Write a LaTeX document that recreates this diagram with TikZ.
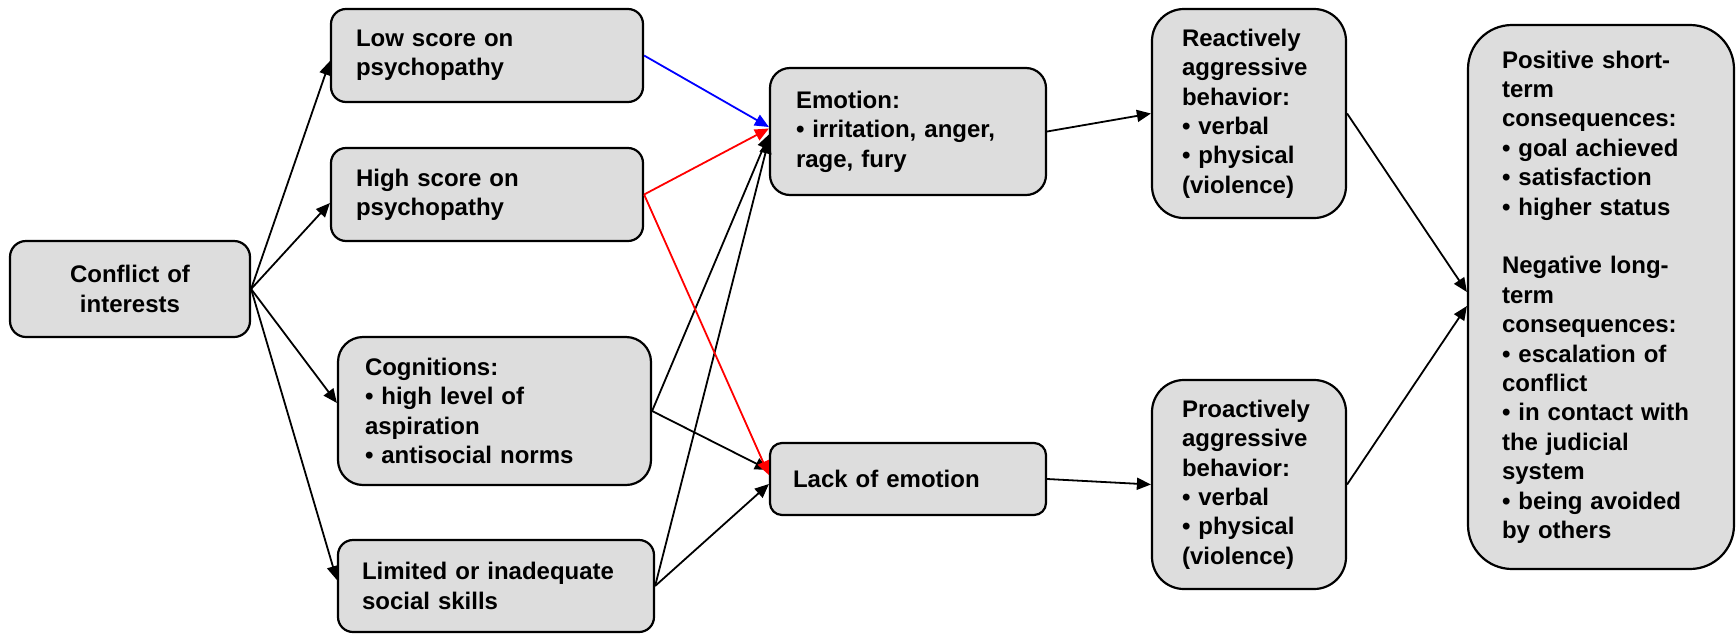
\documentclass[tikz,border=0pt]{standalone}
\usepackage{fontspec}
\setmainfont{Liberation Sans}
\usetikzlibrary{arrows.meta}
\definecolor{boxfill}{HTML}{DDDDDD}
\begin{document}
\begin{tikzpicture}[x=0.5pt,y=-0.5pt,
  box/.style={draw=black, line width=1.1pt, fill=boxfill,
    font=\bfseries\fontsize{12}{14.7}\selectfont, align=left, inner ysep=0pt},
  arr/.style={line width=0.9pt, -{Triangle[length=7pt,width=6pt]}},
]
\useasboundingbox (0,0) rectangle (1736,633);

\node[box, align=center, rounded corners=8pt, minimum height=48pt, inner xsep=10pt, text width=100pt] (conf) at (130,289) {Conflict of\\interests};
\node[box, rounded corners=7.5pt, minimum height=46.5pt, inner xsep=12.5pt, text width=131pt] (low) at (487,55.5) {Low score on\\psychopathy};
\node[box, rounded corners=7.5pt, minimum height=46.5pt, inner xsep=12.5pt, text width=131pt] (high) at (487,194.5) {High score on\\psychopathy};
\node[box, rounded corners=12.5pt, minimum height=74pt, inner xsep=13.5pt, text width=129.5pt] (cog) at (494.5,411) {Cognitions:\\• high level of\\aspiration\\• antisocial norms};
\node[box, rounded corners=7.5pt, minimum height=46pt, inner xsep=12pt, text width=134pt] (lim) at (496,586) {Limited or inadequate\\social skills};
\node[box, rounded corners=10pt, minimum height=63.5pt, inner xsep=13pt, text width=112pt] (emo) at (908,131.5) {Emotion:\\• irritation, anger,\\rage, fury};
\node[box, rounded corners=6pt, minimum height=36pt, inner xsep=11.5pt, text width=115pt] (lack) at (908,479) {Lack of emotion};
\node[box, rounded corners=16pt, minimum height=104.5pt, inner xsep=15pt, text width=67pt] (react) at (1249,113.5) {Reactively\\aggressive\\behavior:\\• verbal\\• physical\\(violence)};
\node[box, rounded corners=16pt, minimum height=104.5pt, inner xsep=15pt, text width=67pt] (pro) at (1249,484.5) {Proactively\\aggressive\\behavior:\\• verbal\\• physical\\(violence)};
\node[box, rounded corners=22pt, minimum height=272pt, inner xsep=17pt, text width=99pt] (cons) at (1601,297) {Positive short-\\term\\consequences:\\• goal achieved\\• satisfaction\\• higher status\\[14.7pt]Negative long-\\term\\consequences:\\• escalation of\\conflict\\• in contact with\\the judicial\\system\\• being avoided\\by others};

\draw[arr] (conf.east) -- ([yshift=-2.75pt]low.west);
\draw[arr] (conf.east) -- ([yshift=-4.25pt]high.west);
\draw[arr] (conf.east) -- ([yshift=4pt]cog.west);
\draw[arr] (conf.east) -- ([yshift=3pt]lim.west);

\draw[arr] (cog.east) -- ([yshift=-1.5pt]emo.west);
\draw[arr] (lim.east) -- ([yshift=-4pt]emo.west);
\draw[arr] (cog.east) -- ([yshift=4.5pt]lack.west);
\draw[arr] (lim.east) -- ([yshift=-2.5pt]lack.west);
\draw[arr, blue] (low.east) -- ([yshift=2.25pt]emo.west);
\draw[arr, red] (high.east) -- ([yshift=1.5pt]emo.west);
\draw[arr, red] (high.east) -- ([yshift=2pt]lack.west);

\draw[arr] (emo.east) -- (react.west);
\draw[arr] (lack.east) -- (pro.west);
\draw[arr] (react.east) -- ([yshift=2.5pt]cons.west);
\draw[arr] (pro.east) -- ([yshift=-4.5pt]cons.west);
\end{tikzpicture}
\end{document}
